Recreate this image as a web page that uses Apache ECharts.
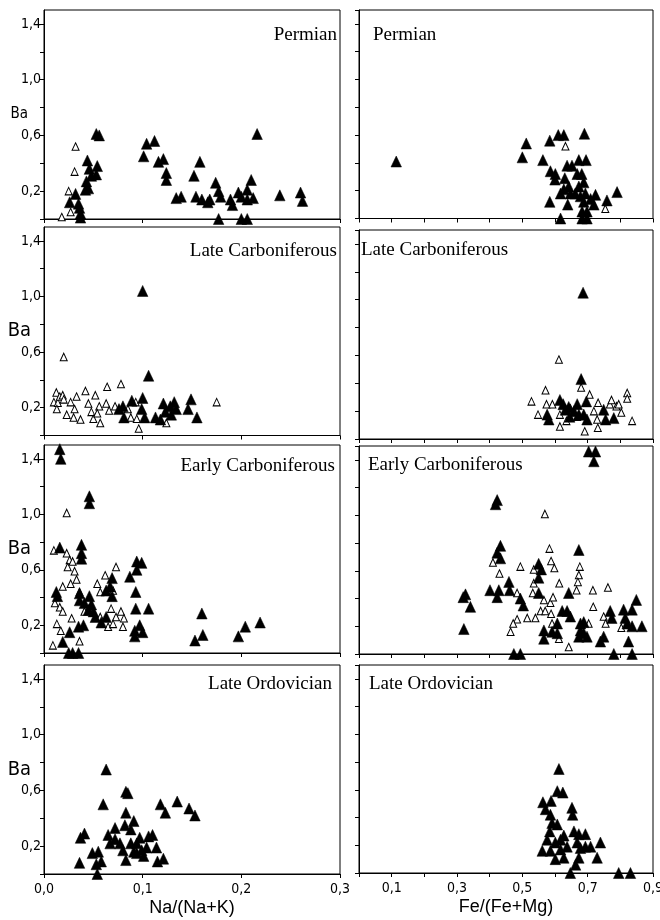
<!DOCTYPE html>
<html><head><meta charset="utf-8">
<script src="https://cdn.jsdelivr.net/npm/echarts@6/dist/echarts.min.js"></script>
<style>html,body{margin:0;padding:0;background:#fff}#c{width:660px;height:920px}</style>
</head><body><div id="c"></div>
<script>
// ---------- text ----------
const periods = ['Permian', 'Late Carboniferous', 'Early Carboniferous', 'Late Ordovician'];
const xTitles = ['Na/(Na+K)', 'Fe/(Fe+Mg)'];
const yTitle = 'Ba';

// ---------- data: [x, Ba] ----------
// Permian
const permNaOpen = [[0.018,0.014],[0.027,0.05],[0.032,0.52],[0.031,0.34],[0.025,0.20]];
const permNaFilled = [[0.032,0.18],[0.026,0.12],[0.035,0.11],[0.036,0.08],[0.037,0.04],[0.037,0.01],[0.044,0.42],[0.046,0.36],[0.043,0.27],[0.045,0.22],[0.042,0.21],[0.053,0.61],[0.056,0.60],[0.054,0.38],[0.053,0.32],[0.048,0.31],[0.101,0.45],[0.104,0.54],[0.112,0.56],[0.116,0.41],[0.121,0.43],[0.124,0.33],[0.124,0.28],[0.134,0.15],[0.139,0.16],[0.152,0.31],[0.158,0.41],[0.154,0.16],[0.160,0.14],[0.166,0.12],[0.168,0.14],[0.174,0.26],[0.177,0.20],[0.179,0.16],[0.177,0.0],[0.189,0.14],[0.191,0.10],[0.197,0.19],[0.200,0.16],[0.200,0.0],[0.206,0.0],[0.206,0.21],[0.206,0.14],[0.210,0.28],[0.212,0.15],[0.216,0.61],[0.239,0.17],[0.260,0.19],[0.262,0.13]];
const permFeOpen = [[0.632,0.52],[0.754,0.07]];
const permFeFilled = [[0.114,0.41],[0.50,0.44],[0.512,0.54],[0.563,0.42],[0.584,0.56],[0.61,0.60],[0.627,0.60],[0.69,0.61],[0.584,0.12],[0.586,0.34],[0.601,0.32],[0.60,0.28],[0.617,0.0],[0.617,0.18],[0.63,0.29],[0.637,0.38],[0.639,0.10],[0.627,0.21],[0.652,0.38],[0.673,0.42],[0.695,0.42],[0.668,0.32],[0.682,0.32],[0.673,0.23],[0.688,0.26],[0.647,0.18],[0.662,0.18],[0.678,0.16],[0.693,0.18],[0.709,0.14],[0.724,0.17],[0.688,0.12],[0.719,0.10],[0.683,0.05],[0.698,0.05],[0.683,0.0],[0.698,0.0],[0.759,0.13],[0.79,0.19],[0.642,0.23]];
// Late Carboniferous
const lcNaOpen = [[0.020,0.565],[0.0125,0.31],[0.010,0.24],[0.014,0.235],[0.016,0.28],[0.019,0.29],[0.013,0.19],[0.020,0.26],[0.023,0.15],[0.027,0.24],[0.030,0.13],[0.033,0.28],[0.031,0.19],[0.037,0.115],[0.042,0.32],[0.045,0.23],[0.048,0.17],[0.050,0.12],[0.052,0.29],[0.056,0.21],[0.057,0.09],[0.054,0.16],[0.064,0.35],[0.063,0.23],[0.066,0.18],[0.072,0.21],[0.078,0.37],[0.085,0.19],[0.088,0.13],[0.094,0.12],[0.096,0.05],[0.093,0.24],[0.124,0.09],[0.175,0.24]];
const lcNaFilled = [[0.100,1.04],[0.106,0.43],[0.080,0.21],[0.081,0.13],[0.089,0.25],[0.100,0.27],[0.099,0.19],[0.102,0.13],[0.113,0.13],[0.118,0.115],[0.121,0.23],[0.123,0.17],[0.129,0.15],[0.132,0.24],[0.134,0.19],[0.146,0.19],[0.149,0.26],[0.155,0.13],[0.076,0.19],[0.128,0.21]];
const lcFeOpen = [[0.528,0.27],[0.548,0.175],[0.571,0.35],[0.574,0.25],[0.592,0.25],[0.612,0.57],[0.615,0.175],[0.615,0.09],[0.635,0.13],[0.647,0.22],[0.668,0.16],[0.680,0.37],[0.691,0.055],[0.706,0.32],[0.729,0.14],[0.731,0.08],[0.732,0.26],[0.768,0.25],[0.773,0.28],[0.788,0.235],[0.795,0.25],[0.803,0.19],[0.821,0.33],[0.821,0.29],[0.836,0.13],[0.719,0.20]];
const lcFeFilled = [[0.686,1.05],[0.680,0.43],[0.615,0.28],[0.625,0.25],[0.576,0.175],[0.581,0.14],[0.642,0.23],[0.658,0.20],[0.668,0.25],[0.673,0.175],[0.696,0.27],[0.688,0.175],[0.698,0.14],[0.645,0.16],[0.749,0.21],[0.755,0.14],[0.780,0.15],[0.632,0.21]];
// Early Carboniferous
const ecNaOpen = [[0.023,1.01],[0.010,0.74],[0.023,0.72],[0.026,0.67],[0.024,0.62],[0.029,0.66],[0.031,0.59],[0.027,0.50],[0.019,0.48],[0.011,0.36],[0.016,0.33],[0.019,0.30],[0.013,0.21],[0.017,0.16],[0.009,0.055],[0.028,0.25],[0.036,0.085],[0.036,0.44],[0.033,0.53],[0.054,0.50],[0.057,0.44],[0.062,0.56],[0.073,0.62],[0.068,0.32],[0.073,0.26],[0.078,0.30],[0.081,0.25],[0.080,0.19],[0.065,0.19],[0.070,0.21],[0.057,0.26],[0.041,0.30],[0.070,0.45]];
const ecNaFilled = [[0.016,1.47],[0.017,1.40],[0.046,1.13],[0.046,1.08],[0.016,0.76],[0.038,0.78],[0.038,0.72],[0.038,0.68],[0.0125,0.44],[0.0136,0.41],[0.019,0.08],[0.026,0.15],[0.025,0.0],[0.035,0.0],[0.029,0.0],[0.035,0.19],[0.040,0.20],[0.036,0.43],[0.036,0.38],[0.041,0.36],[0.046,0.41],[0.048,0.35],[0.045,0.31],[0.050,0.30],[0.052,0.26],[0.058,0.22],[0.063,0.26],[0.063,0.45],[0.067,0.48],[0.069,0.54],[0.069,0.41],[0.087,0.55],[0.094,0.66],[0.099,0.65],[0.094,0.60],[0.093,0.44],[0.093,0.32],[0.092,0.16],[0.092,0.12],[0.097,0.20],[0.100,0.15],[0.106,0.32],[0.153,0.09],[0.160,0.285],[0.161,0.13],[0.197,0.12],[0.204,0.19],[0.219,0.22]];
const ecFeOpen = [[0.569,1.01],[0.583,0.76],[0.588,0.67],[0.598,0.62],[0.676,0.63],[0.673,0.57],[0.670,0.52],[0.666,0.46],[0.410,0.66],[0.430,0.58],[0.494,0.63],[0.535,0.61],[0.535,0.51],[0.532,0.44],[0.566,0.39],[0.586,0.37],[0.594,0.41],[0.613,0.51],[0.716,0.46],[0.762,0.48],[0.717,0.34],[0.484,0.44],[0.484,0.25],[0.472,0.22],[0.464,0.16],[0.515,0.26],[0.540,0.26],[0.556,0.31],[0.570,0.31],[0.588,0.29],[0.591,0.22],[0.612,0.11],[0.642,0.05],[0.703,0.22],[0.749,0.27],[0.755,0.22],[0.803,0.19]];
const ecFeFilled = [[0.703,1.46],[0.724,1.46],[0.719,1.39],[0.423,1.11],[0.418,1.08],[0.433,0.78],[0.423,0.73],[0.433,0.69],[0.319,0.41],[0.326,0.43],[0.341,0.34],[0.321,0.18],[0.401,0.46],[0.428,0.46],[0.423,0.41],[0.459,0.52],[0.461,0.46],[0.494,0.40],[0.503,0.35],[0.550,0.65],[0.558,0.61],[0.550,0.55],[0.550,0.44],[0.566,0.17],[0.566,0.11],[0.607,0.22],[0.607,0.15],[0.591,0.16],[0.474,0.0],[0.494,0.0],[0.622,0.31],[0.637,0.31],[0.642,0.44],[0.647,0.27],[0.673,0.75],[0.678,0.22],[0.678,0.17],[0.688,0.23],[0.688,0.15],[0.673,0.125],[0.698,0.125],[0.739,0.09],[0.749,0.125],[0.769,0.31],[0.774,0.26],[0.780,0.0],[0.810,0.32],[0.815,0.26],[0.825,0.09],[0.836,0.0],[0.836,0.32],[0.849,0.39],[0.836,0.20],[0.866,0.20],[0.821,0.22]];
// Late Ordovician
const loNaOpen = [];
const loNaFilled = [[0.063,0.75],[0.060,0.50],[0.083,0.59],[0.085,0.58],[0.083,0.44],[0.082,0.35],[0.091,0.38],[0.088,0.32],[0.072,0.33],[0.065,0.28],[0.067,0.22],[0.072,0.25],[0.077,0.22],[0.080,0.17],[0.083,0.10],[0.088,0.22],[0.091,0.16],[0.094,0.15],[0.097,0.26],[0.101,0.13],[0.104,0.19],[0.106,0.27],[0.110,0.28],[0.114,0.19],[0.115,0.09],[0.121,0.11],[0.118,0.50],[0.123,0.44],[0.135,0.52],[0.147,0.47],[0.153,0.42],[0.037,0.26],[0.041,0.29],[0.036,0.08],[0.049,0.15],[0.055,0.16],[0.053,0.07],[0.058,0.09],[0.054,0.0],[0.094,0.22],[0.099,0.17]];
const loFeOpen = [];
const loFeFilled = [[0.612,0.75],[0.607,0.59],[0.624,0.58],[0.563,0.51],[0.588,0.52],[0.571,0.46],[0.586,0.42],[0.652,0.47],[0.654,0.42],[0.591,0.36],[0.607,0.35],[0.584,0.30],[0.576,0.24],[0.561,0.16],[0.586,0.16],[0.601,0.10],[0.617,0.17],[0.627,0.27],[0.637,0.19],[0.627,0.11],[0.658,0.30],[0.673,0.28],[0.693,0.28],[0.668,0.22],[0.678,0.18],[0.693,0.19],[0.709,0.19],[0.673,0.11],[0.663,0.06],[0.647,0.0],[0.729,0.11],[0.739,0.22],[0.795,0.0],[0.831,0.0],[0.617,0.24],[0.601,0.22]];

const naSets = [[permNaOpen, permNaFilled],[lcNaOpen, lcNaFilled],[ecNaOpen, ecNaFilled],[loNaOpen, loNaFilled]];
const feSets = [[permFeOpen, permFeFilled],[lcFeOpen, lcFeFilled],[ecFeOpen, ecFeFilled],[loFeOpen, loFeFilled]];

// ---------- layout ----------
const NARROW = "'Liberation Sans Narrow', 'DejaVu Sans Condensed', 'Liberation Sans', sans-serif";
const SANS = "'Liberation Sans', Arial, sans-serif";
const SERIF = "'Liberation Serif', 'Times New Roman', serif";
const leftTops = [10, 227, 445, 665], leftHeights = [209, 208.5, 208, 209];
const rightTops = [10, 230, 446, 665], rightHeights = [208.5, 209, 208, 208];
const comma = v => (Math.round(v * 10) / 10).toFixed(1).replace('.', ',');

const grids = [], xAxes = [], yAxes = [], series = [], titles = [];
const leftTitlePos = [[337, 26], [337, 242], [335, 457], [332, 675]];
const rightTitlePos = [[373, 26], [361, 241], [368, 456], [369, 675]];
const baNameGap = [16, 13, 13, 13];
const baSize = [15, 20, 20, 20];

for (let r = 0; r < 4; r++) {
  for (let c = 0; c < 2; c++) {
    const gi = grids.length;
    const left = c === 0;
    grids.push({ left: left ? 44 : 359, width: left ? 296 : 294,
      top: left ? leftTops[r] : rightTops[r], height: left ? leftHeights[r] : rightHeights[r],
      containLabel: false, outerBoundsMode: 'none',
      show: true, borderColor: '#000', borderWidth: 1, backgroundColor: 'transparent' });
    const bottomRow = r === 3;
    xAxes.push({ type: 'value', gridIndex: gi, min: 0, max: left ? 0.3 : 0.9, interval: 0.1,
      axisLine: { onZero: false, lineStyle: { color: '#000', width: 1 } },
      axisTick: { show: true, inside: false, length: 4, lineStyle: { color: '#000' } },
      splitLine: { show: false },
      axisLabel: { show: bottomRow, color: '#000', fontSize: 14, fontFamily: NARROW, margin: 8,
        showMinLabel: true, showMaxLabel: true, hideOverlap: false,
        formatter: v => left ? comma(v) : (Math.round(v * 10) % 2 === 1 ? comma(v) : '') },
      name: bottomRow ? xTitles[c] : '', nameLocation: 'middle', nameGap: 25, nameMoveOverlap: false,
      nameTextStyle: { color: '#000', fontSize: 18, fontFamily: SANS, verticalAlign: 'top' } });
    yAxes.push({ type: 'value', gridIndex: gi, min: 0, max: 1.5, interval: 0.2,
      axisLine: { onZero: false, lineStyle: { color: '#000', width: 1 } },
      axisTick: { show: true, inside: false, length: 4, lineStyle: { color: '#000' } },
      splitLine: { show: false },
      axisLabel: { show: left, color: '#000', fontSize: 14, fontFamily: NARROW, margin: 3,
        showMaxLabel: false,
        formatter: v => (Math.round(v * 10) % 4 === 2 ? comma(v) : '') },
      name: left ? yTitle : '', nameLocation: 'middle', nameRotate: 0, nameGap: baNameGap[r],
      nameMoveOverlap: false,
      nameTextStyle: { color: '#000', fontSize: baSize[r], fontFamily: NARROW, align: 'right', verticalAlign: 'middle' } });
    const sets = left ? naSets[r] : feSets[r];
    series.push({ type: 'scatter', xAxisIndex: gi, yAxisIndex: gi, data: sets[0], clip: false,
      symbol: 'triangle', symbolSize: [7, 7.5], silent: true,
      itemStyle: { color: '#fff', borderColor: '#000', borderWidth: 1, opacity: 1 } });
    series.push({ type: 'scatter', xAxisIndex: gi, yAxisIndex: gi, data: sets[1], clip: false,
      symbol: 'triangle', symbolSize: [10.5, 11], silent: true,
      itemStyle: { color: '#000', borderColor: '#000', borderWidth: 0.5, opacity: 1 } });
    const pos = left ? leftTitlePos[r] : rightTitlePos[r];
    const t = { text: periods[r], top: pos[1], padding: 0,
      textStyle: { fontFamily: SERIF, fontSize: 19, fontWeight: 'normal', color: '#000' } };
    if (left) t.right = 660 - pos[0]; else t.left = pos[0];
    titles.push(t);
  }
}

const chart = echarts.init(document.getElementById('c'), null, { renderer: 'canvas' });
chart.setOption({ animation: false, backgroundColor: '#fff', title: titles,
  grid: grids, xAxis: xAxes, yAxis: yAxes, series: series });
</script></body></html>
